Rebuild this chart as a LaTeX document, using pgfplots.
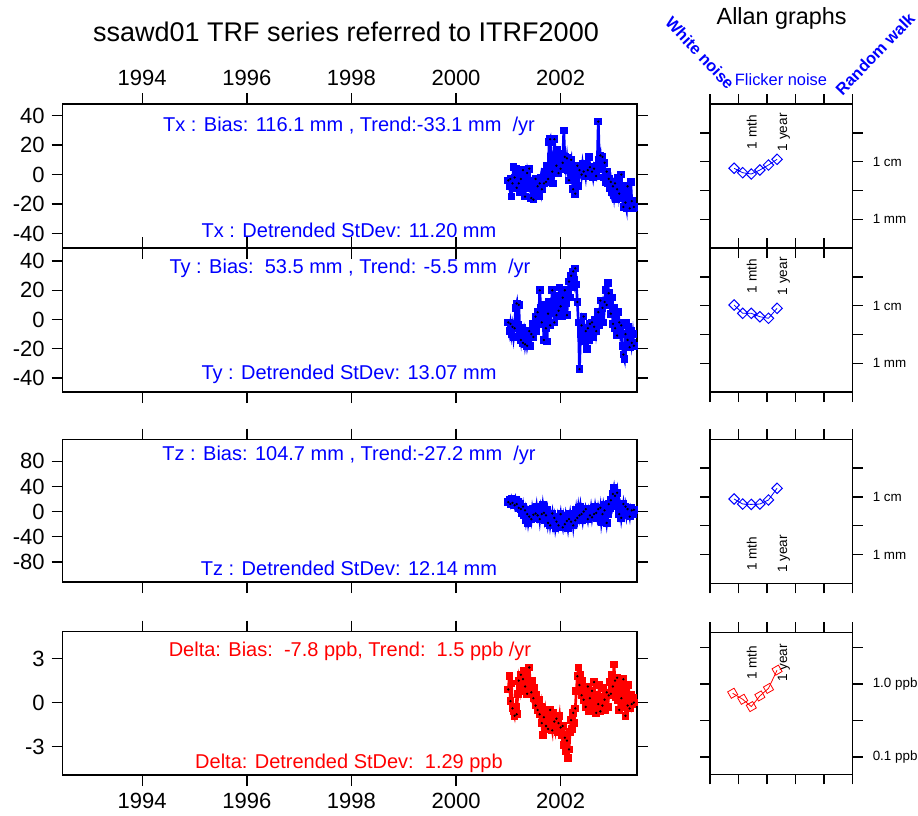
\documentclass[border=0pt]{standalone}
\usepackage{fontspec}
\setmainfont{Liberation Sans}
\usepackage{pgfplots}
\usepackage{pgfplotstable}
\pgfplotsset{compat=1.18}

\definecolor{tblue}{RGB}{0,0,255}
\definecolor{tred}{RGB}{255,0,0}

% weekly translation / scale series (mm, ppb)
\pgfplotstableread[row sep=\\]{x y\\
2001.00 -4\\2001.02 -8\\2001.04 -3\\2001.06 -15\\2001.08 -6\\2001.10 5\\2001.12 -2\\2001.14 4\\2001.16 -9\\2001.18 2\\
2001.20 -6\\2001.22 -12\\2001.24 -3\\2001.26 -10\\2001.28 3\\2001.30 -8\\2001.32 -15\\2001.34 -5\\2001.36 1\\2001.38 -4\\
2001.40 4\\2001.42 -9\\2001.44 -16\\2001.46 -7\\2001.48 -17\\2001.50 -10\\2001.52 -3\\2001.54 -12\\2001.56 -8\\2001.58 -15\\
2001.60 -6\\2001.62 -2\\2001.64 -10\\2001.66 -4\\2001.68 -6\\2001.70 2\\2001.72 -5\\2001.74 6\\2001.76 -3\\2001.78 22\\
2001.80 24\\2001.82 12\\2001.84 2\\2001.86 -6\\2001.88 24\\2001.90 13\\2001.92 6\\2001.94 17\\2001.96 1\\2001.98 10\\
2002.00 4\\2002.02 14\\2002.04 8\\2002.06 30\\2002.08 12\\2002.10 5\\2002.12 11\\2002.14 3\\2002.16 -4\\2002.18 7\\
2002.20 10\\2002.22 -2\\2002.24 -10\\2002.26 2\\2002.28 -13\\2002.30 -4\\2002.32 6\\2002.34 -8\\2002.36 3\\2002.38 5\\
2002.40 0\\2002.42 7\\2002.44 2\\2002.46 4\\2002.48 -1\\2002.50 6\\2002.52 3\\2002.54 12\\2002.56 5\\2002.58 0\\
2002.60 2\\2002.62 -2\\2002.64 4\\2002.66 1\\2002.68 -1\\2002.70 6\\2002.72 36\\2002.74 10\\2002.76 13\\2002.78 4\\
2002.80 12\\2002.82 -2\\2002.84 8\\2002.86 -5\\2002.88 2\\2002.90 -6\\2002.92 -3\\2002.94 -9\\2002.96 -5\\2002.98 -12\\
2003.00 -8\\2003.02 -14\\2003.04 -6\\2003.06 -17\\2003.08 -10\\2003.10 -2\\2003.12 -13\\2003.14 -8\\2003.16 0\\2003.18 -16\\
2003.20 -22\\2003.22 -12\\2003.24 -19\\2003.26 -23\\2003.28 -8\\2003.30 -15\\2003.32 -23\\2003.34 -5\\2003.36 -18\\2003.38 -23\\2003.40 -22\\
}\txdata

\pgfplotstableread[row sep=\\]{x y\\
2001.00 -2\\2001.02 -8\\2001.04 -3\\2001.06 -10\\2001.08 -5\\2001.10 -12\\2001.12 -6\\2001.14 8\\2001.16 11\\2001.18 -4\\
2001.20 10\\2001.22 -9\\2001.24 -14\\2001.26 -6\\2001.28 -16\\2001.30 -10\\2001.32 -17\\2001.34 -12\\2001.36 -18\\2001.38 -14\\
2001.40 -8\\2001.42 -18\\2001.44 -10\\2001.46 -3\\2001.48 -12\\2001.50 -5\\2001.52 2\\2001.54 -8\\2001.56 5\\2001.58 -3\\
2001.60 20\\2001.62 8\\2001.64 -2\\2001.66 10\\2001.68 -14\\2001.70 5\\2001.72 -6\\2001.74 -15\\2001.76 4\\2001.78 12\\
2001.80 -4\\2001.82 8\\2001.84 20\\2001.86 6\\2001.88 -2\\2001.90 12\\2001.92 3\\2001.94 16\\2001.96 6\\2001.98 22\\
2002.00 9\\2002.02 2\\2002.04 15\\2002.06 6\\2002.08 20\\2002.10 11\\2002.12 3\\2002.14 18\\2002.16 26\\2002.18 15\\
2002.20 30\\2002.22 22\\2002.24 33\\2002.26 27\\2002.28 35\\2002.30 24\\2002.32 12\\2002.34 -2\\2002.36 -34\\2002.38 -10\\
2002.40 -4\\2002.42 -12\\2002.44 2\\2002.46 -15\\2002.48 -8\\2002.50 -20\\2002.52 -6\\2002.54 -14\\2002.56 -3\\2002.58 -9\\
2002.60 -2\\2002.62 -12\\2002.64 -5\\2002.66 0\\2002.68 -8\\2002.70 -2\\2002.72 5\\2002.74 -4\\2002.76 13\\2002.78 3\\
2002.80 8\\2002.82 -2\\2002.84 12\\2002.86 20\\2002.88 10\\2002.90 25\\2002.92 18\\2002.94 12\\2002.96 4\\2002.98 15\\
2003.00 -3\\2003.02 8\\2003.04 -6\\2003.06 2\\2003.08 -11\\2003.10 5\\2003.12 -2\\2003.14 -9\\2003.16 -4\\2003.18 -18\\
2003.20 -24\\2003.22 -27\\2003.24 -10\\2003.26 -2\\2003.28 -14\\2003.30 -5\\2003.32 -19\\2003.34 -8\\2003.36 -16\\2003.38 -10\\2003.40 -18\\
}\tydata

\pgfplotstableread[row sep=\\]{x y\\
2001.00 15\\2001.02 18\\2001.04 12\\2001.06 20\\2001.08 14\\2001.10 17\\2001.12 10\\2001.14 19\\2001.16 12\\2001.18 15\\
2001.20 6\\2001.22 13\\2001.24 4\\2001.26 -2\\2001.28 8\\2001.30 -6\\2001.32 2\\2001.34 -14\\2001.36 -4\\2001.38 -18\\
2001.40 -8\\2001.42 -2\\2001.44 -12\\2001.46 4\\2001.48 -5\\2001.50 -10\\2001.52 -3\\2001.54 8\\2001.56 -6\\2001.58 2\\
2001.60 -12\\2001.62 5\\2001.64 -4\\2001.66 10\\2001.68 -2\\2001.70 -14\\2001.72 -6\\2001.74 2\\2001.76 -18\\2001.78 -8\\
2001.80 -22\\2001.82 -12\\2001.84 -3\\2001.86 -20\\2001.88 -10\\2001.90 -26\\2001.92 -16\\2001.94 -8\\2001.96 -22\\2001.98 -14\\
2002.00 -4\\2002.02 -18\\2002.04 -25\\2002.06 -10\\2002.08 -20\\2002.10 -6\\2002.12 -15\\2002.14 -26\\2002.16 -12\\2002.18 -3\\
2002.20 -16\\2002.22 -8\\2002.24 -22\\2002.26 -5\\2002.28 -14\\2002.30 2\\2002.32 -10\\2002.34 6\\2002.36 -6\\2002.38 8\\
2002.40 -4\\2002.42 -14\\2002.44 0\\2002.46 -8\\2002.48 4\\2002.50 -3\\2002.52 -12\\2002.54 1\\2002.56 -6\\2002.58 5\\
2002.60 -9\\2002.62 2\\2002.64 -4\\2002.66 8\\2002.68 -2\\2002.70 -10\\2002.72 4\\2002.74 -5\\2002.76 6\\2002.78 -16\\
2002.80 -4\\2002.82 10\\2002.84 2\\2002.86 -6\\2002.88 -18\\2002.90 -4\\2002.92 12\\2002.94 6\\2002.96 18\\2002.98 10\\
2003.00 28\\2003.02 37\\2003.04 25\\2003.06 20\\2003.08 30\\2003.10 8\\2003.12 -4\\2003.14 6\\2003.16 -10\\2003.18 2\\
2003.20 12\\2003.22 -2\\2003.24 8\\2003.26 -6\\2003.28 4\\2003.30 0\\2003.32 -8\\2003.34 6\\2003.36 2\\2003.38 -4\\2003.40 3\\
}\tzdata

\pgfplotstableread[row sep=\\]{x y\\
2001.00 0.9\\2001.02 1.8\\2001.04 0.1\\2001.06 1.3\\2001.08 -0.4\\2001.10 -0.6\\2001.12 -0.9\\2001.14 -0.3\\2001.16 -0.8\\2001.18 0.6\\
2001.20 1.5\\2001.22 1.0\\2001.24 1.9\\2001.26 0.8\\2001.28 1.6\\2001.30 2.2\\2001.32 1.1\\2001.34 1.7\\2001.36 0.6\\2001.38 1.4\\
2001.40 2.4\\2001.42 1.2\\2001.44 0.7\\2001.46 1.5\\2001.48 0.3\\2001.50 1.0\\2001.52 -0.2\\2001.54 0.5\\2001.56 -0.5\\2001.58 0.2\\
2001.60 -0.8\\2001.62 -0.3\\2001.64 -1.4\\2001.66 -2.2\\2001.68 -1.0\\2001.70 -0.6\\2001.72 -1.6\\2001.74 -0.9\\2001.76 -1.8\\2001.78 -1.2\\
2001.80 -0.5\\2001.82 -1.5\\2001.84 -1.9\\2001.86 -0.7\\2001.88 -1.3\\2001.90 -1.8\\2001.92 -1.1\\2001.94 -2.0\\2001.96 -1.4\\2001.98 -0.9\\
2002.00 -1.7\\2002.02 -2.2\\2002.04 -1.6\\2002.06 -2.9\\2002.08 -2.4\\2002.10 -3.3\\2002.12 -2.6\\2002.14 -3.8\\2002.16 -3.2\\2002.18 -2.0\\
2002.20 -1.2\\2002.22 -1.8\\2002.24 -0.7\\2002.26 -1.4\\2002.28 -0.4\\2002.30 0.8\\2002.32 1.8\\2002.34 2.4\\2002.36 1.2\\2002.38 1.9\\
2002.40 0.5\\2002.42 1.5\\2002.44 0.2\\2002.46 0.9\\2002.48 -0.3\\2002.50 0.6\\2002.52 1.1\\2002.54 -0.6\\2002.56 0.3\\2002.58 -0.4\\
2002.60 0.8\\2002.62 -0.2\\2002.64 1.4\\2002.66 0.4\\2002.68 -0.7\\2002.70 0.5\\2002.72 -0.1\\2002.74 1.2\\2002.76 -0.6\\2002.78 0.4\\
2002.80 -0.2\\2002.82 1.0\\2002.84 0.2\\2002.86 -0.5\\2002.88 0.7\\2002.90 -0.3\\2002.92 0.5\\2002.94 1.4\\2002.96 0.6\\2002.98 1.9\\
2003.00 1.1\\2003.02 2.6\\2003.04 1.5\\2003.06 0.4\\2003.08 1.7\\2003.10 0.2\\2003.12 -0.5\\2003.14 1.6\\2003.16 0.3\\2003.18 -0.3\\
2003.20 1.6\\2003.22 0.1\\2003.24 -0.9\\2003.26 0.7\\2003.28 -0.2\\2003.30 1.2\\2003.32 -0.4\\2003.34 0.5\\2003.36 -0.1\\2003.38 0.3\\2003.40 0.0\\
}\dldata

\tikzset{tau/.style={rotate=90, font=\fontsize{6.8}{8}\selectfont, black}}

\pgfplotsset{
  frame/.style={
    scale only axis,
    tick align=outside,
    axis line style={line width=0.7pt},
    every tick/.style={black, line width=0.7pt},
    /pgf/number format/assume math mode=true,
    /pgf/number format/1000 sep={},
    clip=true,
  },
  tsax/.style={
    frame,
    width=287.15pt, height=72pt,
    xmin=1992.48, xmax=2003.46,
    xtick={1994,1996,1998,2000,2002},
    major tick length=5.5pt,
    yticklabel pos=left,
    ticklabel style={font=\fontsize{11}{13}\selectfont},
  },
  alax/.style={
    frame,
    width=71.35pt, height=72pt,
    xmin=0, xmax=5, xtick={0,1,2,3,4,5}, xticklabels={},
    major tick length=5pt,
    yticklabel pos=right,
    ticklabel style={font=\fontsize{6.7}{8}\selectfont},
    yticklabel style={xshift=1.5pt},
  },
  series/.style={#1, line width=1.35pt, mark=square*, mark size=1.25pt},
  dots/.style={only marks, mark=*, mark size=0.35pt, black, mark repeat=2},
  allan/.style={#1, line width=0.4pt, mark=square, mark size=1.85pt,
    mark options={rotate=45, solid, line width=0.5pt}},
}

\begin{document}
\begin{tikzpicture}
\path[use as bounding box] (0pt,0pt) rectangle (459pt,-408pt);

% ---- time series panels ----
\begin{axis}[tsax, at={(31.35pt,-52pt)}, anchor=north west,
  xticklabel pos=upper, ymin=-49.9, ymax=47.9, ytick={-40,-20,0,20,40}]
  \addplot[series=tblue] table {\txdata};
  \addplot[dots] table {\txdata};
\end{axis}

\begin{axis}[tsax, at={(31.35pt,-124pt)}, anchor=north west,
  xticklabels={}, ymin=-49.7, ymax=49, ytick={-40,-20,0,20,40}]
  \addplot[series=tblue] table {\tydata};
  \addplot[dots] table {\tydata};
\end{axis}

\begin{axis}[tsax, at={(31.35pt,-219.75pt)}, anchor=north west,
  xticklabels={}, height=71.25pt, ymin=-112, ymax=114.7, ytick={-80,-40,0,40,80}]
  \addplot[series=tblue] table {\tzdata};
  \addplot[dots] table {\tzdata};
\end{axis}

\begin{axis}[tsax, at={(31.35pt,-315.75pt)}, anchor=north west,
  xticklabel pos=lower, height=71.75pt, ymin=-4.95, ymax=4.86, ytick={-3,0,3}]
  \addplot[series=tred] table {\dldata};
  \addplot[dots] table {\dldata};
\end{axis}

% ---- Allan deviation panels (log10 tau in days, log10 sigma) ----
\begin{axis}[alax, at={(355pt,-52pt)}, anchor=north west,
  ymin=-0.5, ymax=2, ytick={0,0.5,1,1.5}, yticklabels={1 mm,{},1 cm,{}}]
  \addplot[allan=tblue] coordinates {(0.845,0.884) (1.146,0.807) (1.447,0.785) (1.748,0.854) (2.049,0.941) (2.350,1.04)};
  \node[tau] at (axis cs:1.46,1.51) {1 mth};
  \node[tau] at (axis cs:2.59,1.51) {1 year};
\end{axis}

\begin{axis}[alax, at={(355pt,-124pt)}, anchor=north west,
  ymin=-0.5, ymax=2, ytick={0,0.5,1,1.5}, yticklabels={1 mm,{},1 cm,{}}]
  \addplot[allan=tblue] coordinates {(0.845,1.01) (1.146,0.866) (1.447,0.866) (1.748,0.807) (2.049,0.78) (2.350,0.953)};
  \node[tau] at (axis cs:1.46,1.51) {1 mth};
  \node[tau] at (axis cs:2.59,1.51) {1 year};
\end{axis}

\begin{axis}[alax, at={(355pt,-219.65pt)}, anchor=north west, height=72pt,
  ymin=-0.5, ymax=2, ytick={0,0.5,1,1.5}, yticklabels={1 mm,{},1 cm,{}}]
  \addplot[allan=tblue] coordinates {(0.845,0.964) (1.146,0.876) (1.447,0.87) (1.748,0.876) (2.049,0.947) (2.350,1.15)};
  \node[tau] at (axis cs:1.46,0.01) {1 mth};
  \node[tau] at (axis cs:2.59,0.01) {1 year};
\end{axis}

\begin{axis}[alax, at={(355pt,-316.15pt)}, anchor=north west, height=71pt,
  ymin=-1.24, ymax=0.71, ytick={-1,-0.5,0,0.5}, yticklabels={0.1 ppb,{},1.0 ppb,{}}]
  \addplot[allan=tred, mark options={rotate=30}] coordinates {(0.795,-0.127) (1.146,-0.21) (1.447,-0.31) (1.748,-0.164) (2.049,-0.06) (2.350,0.19)};
  \node[tau] at (axis cs:1.46,0.29) {1 mth};
  \node[tau] at (axis cs:2.59,0.29) {1 year};
\end{axis}

% ---- titles ----
\node[font=\fontsize{13.5}{16}\selectfont] at (173pt,-16pt) {ssawd01 TRF series referred to ITRF2000};
\node[font=\fontsize{11.7}{14}\selectfont] at (390.85pt,-9pt) {Allan graphs};
\node[font=\bfseries\fontsize{8.2}{10}\selectfont, text=tblue, rotate=-47] at (350pt,-26.5pt) {White noise};
\node[font=\fontsize{8.2}{10}\selectfont, text=tblue] at (390.5pt,-40pt) {Flicker noise};
\node[font=\bfseries\fontsize{8.2}{10}\selectfont, text=tblue, rotate=46] at (437.5pt,-27pt) {Random walk};

% ---- panel annotations ----
\begin{scope}[every node/.style={font=\fontsize{10}{12}\selectfont}]
\node[text=tblue] at (174.5pt,-63pt) {Tx : Bias: 116.1 mm , Trend:-33.1 mm\ \ /yr};
\node[text=tblue] at (174.5pt,-115pt) {Tx : Detrended StDev: 11.20 mm};
\node[text=tblue] at (175pt,-134pt) {Ty : Bias:\ \ 53.5 mm , Trend: -5.5 mm\ \ /yr};
\node[text=tblue] at (174.5pt,-187pt) {Ty : Detrended StDev: 13.07 mm};
\node[text=tblue] at (174.5pt,-227.5pt) {Tz : Bias: 104.7 mm , Trend:-27.2 mm\ \ /yr};
\node[text=tblue] at (174.5pt,-284pt) {Tz : Detrended StDev: 12.14 mm};
\node[text=tred] at (175pt,-325.5pt) {Delta: Bias:\ \ -7.8 ppb, Trend:\ \ 1.5 ppb /yr};
\node[text=tred] at (174.5pt,-381.5pt) {Delta: Detrended StDev:\ \ 1.29 ppb};
\end{scope}
\end{tikzpicture}
\end{document}
